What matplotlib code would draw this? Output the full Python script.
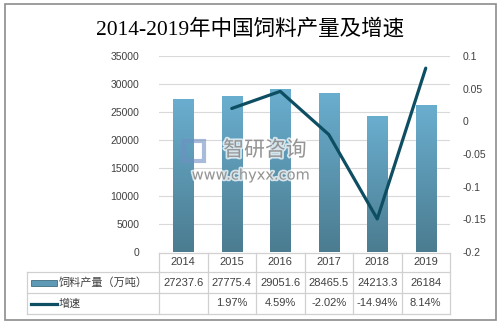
import matplotlib
matplotlib.use("Agg")
import matplotlib.pyplot as plt
from matplotlib.colors import LinearSegmentedColormap
from matplotlib.patches import Rectangle
from matplotlib.lines import Line2D
import matplotlib.patheffects as pe
import matplotlib.transforms as mtransforms
import numpy as np

plt.rcParams['font.family'] = ['Liberation Sans', 'Noto Sans CJK SC', 'DejaVu Sans']

# data
years = ['2014', '2015', '2016', '2017', '2018', '2019']
output = [27237.6, 27775.4, 29051.6, 28465.5, 24213.3, 26184]
output_txt = ['27237.6', '27775.4', '29051.6', '28465.5', '24213.3', '26184']
growth = [None, 0.0197, 0.0459, -0.0202, -0.1494, 0.0814]
growth_txt = ['', '1.97%', '4.59%', '-2.02%', '-14.94%', '8.14%']

W, H = 501, 324
fig = plt.figure(figsize=(W / 100, H / 100), dpi=100)

def fx(px):
    return px / W

def fy(py):
    return 1 - py / H

# outer frame
fig.patches.append(Rectangle((fx(4.5), fy(319.5)), fx(491), (315.5) / H, transform=fig.transFigure,
                             fill=False, edgecolor='#8c8c8c', linewidth=1.2))

fig.text(0.5, fy(29), '2014-2019年中国饲料产量及增速', ha='center', va='center', fontsize=15.5,
         family=['Liberation Serif', 'Noto Sans CJK SC'], color='black')

ax_l, ax_r, ax_t, ax_b = 159, 450, 56, 252
ax = fig.add_axes([fx(ax_l), fy(ax_b), fx(ax_r - ax_l), (ax_b - ax_t) / H])
x = np.arange(len(years))
ax.set_xlim(-0.5, 5.5)
ax.set_ylim(0, 35000)
ax.set_yticks(np.arange(0, 35001, 5000))
ax.set_yticklabels([str(v) for v in range(0, 35001, 5000)], fontsize=7.5, color='#404040')
ax.set_xticks([])
for s in ax.spines.values():
    s.set_visible(False)
ax.tick_params(axis='y', length=0, pad=14)
ax.grid(axis='y', color='#d9d9d9', linewidth=0.8)
ax.set_axisbelow(True)

cmap = LinearSegmentedColormap.from_list('bar', ['#4b7c90', '#6aaecf'])
grad = np.linspace(0, 1, 256).reshape(-1, 1)
bars = ax.bar(x, output, width=0.42, color='#5e9ab5', edgecolor='#3f6d80', linewidth=0.6, zorder=2)
for b in bars:
    im = ax.imshow(grad, cmap=cmap, aspect='auto', origin='lower',
                   extent=(b.get_x(), b.get_x() + b.get_width(), 0, b.get_height()), zorder=2)
    im.set_clip_path(b)
ax.set_xlim(-0.5, 5.5)
ax.set_ylim(0, 35000)

ax2 = ax.twinx()
ax2.set_ylim(-0.2, 0.1)
ax2.set_yticks([-0.2, -0.15, -0.1, -0.05, 0, 0.05, 0.1])
ax2.set_yticklabels(['-0.2', '-0.15', '-0.1', '-0.05', '0', '0.05', '0.1'], fontsize=7.5, color='#404040')
ax2.tick_params(axis='y', length=0, pad=9)
for s in ax2.spines.values():
    s.set_visible(False)
gx = [i for i, g in enumerate(growth) if g is not None]
gy = [g for g in growth if g is not None]
ax2.plot(gx, gy, color='#0e4e62', linewidth=2.3, solid_capstyle='round', zorder=3)

# watermark
halo = [pe.withStroke(linewidth=2.5, foreground=(1, 1, 1, 0.6))]
fig.text(fx(265), fy(150), '智研咨询', ha='center', va='center', fontsize=15,
         color='#7a7a7a', alpha=0.75, family=['Noto Sans CJK SC'], path_effects=halo, zorder=10)
fig.text(fx(251), fy(175), 'www.chyxx.com', ha='center', va='center', fontsize=10.5,
         color='#7a7a7a', alpha=0.75, family=['DejaVu Sans'], path_effects=halo, zorder=10)
fig.patches.append(Rectangle((fx(184), fy(161)), fx(20), 20 / H, transform=fig.transFigure,
                             fill=False, edgecolor='#6f8fc4', linewidth=3, alpha=0.6, zorder=10))

# data table
line_c = '#d0d0d0'
col_edges = [ax_l + i * (ax_r - ax_l) / 6 for i in range(7)]
rows = [252.5, 272, 293, 314]
def hline(y, x0, x1):
    fig.add_artist(Line2D([fx(x0), fx(x1)], [fy(y), fy(y)], color=line_c, linewidth=0.9))
def vline(xp, y0, y1):
    fig.add_artist(Line2D([fx(xp), fx(xp)], [fy(y0), fy(y1)], color=line_c, linewidth=0.9))
hline(rows[0], ax_l, ax_r)
hline(rows[1], 27, ax_r)
hline(rows[2], 27, ax_r)
hline(rows[3], 27, ax_r)
vline(27, rows[1], rows[3])
for i, e in enumerate(col_edges):
    vline(e, rows[0], rows[3])

trans = mtransforms.blended_transform_factory(ax.transData, fig.transFigure)
for i in range(len(years)):
    ax.text(x[i], fy((rows[0] + rows[1]) / 2), years[i], transform=trans, ha='center', va='center',
            fontsize=8, color='#404040', clip_on=False)
    ax.text(x[i], fy((rows[1] + rows[2]) / 2), output_txt[i], transform=trans, ha='center', va='center',
            fontsize=8, color='#404040', clip_on=False)
    ax.text(x[i], fy((rows[2] + rows[3]) / 2), growth_txt[i], transform=trans, ha='center', va='center',
            fontsize=8, color='#404040', clip_on=False)

# legend keys in table
r2 = (rows[1] + rows[2]) / 2
r3 = (rows[2] + rows[3]) / 2
fig.patches.append(Rectangle((fx(31), fy(r2 + 3)), fx(26), 6 / H, transform=fig.transFigure,
                             facecolor='#5e9ab5', edgecolor='#3f6d80', linewidth=0.6))
fig.add_artist(Line2D([fx(31), fx(57)], [fy(r3), fy(r3)], color='#0e4e62', linewidth=2.3))
fig.text(fx(59), fy(r2), '饲料产量（万吨）', ha='left', va='center', fontsize=8, color='#404040',
         family=['Noto Sans CJK SC'])
fig.text(fx(59), fy(r3), '增速', ha='left', va='center', fontsize=8, color='#404040',
         family=['Noto Sans CJK SC'])

fig.savefig('out.png', dpi=100)
